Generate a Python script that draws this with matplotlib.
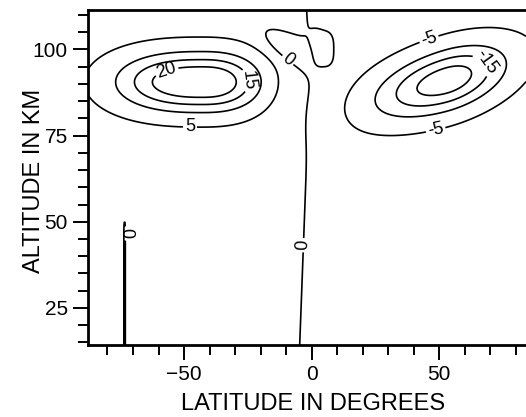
import numpy as np
import matplotlib
matplotlib.use("Agg")
import matplotlib.pyplot as plt
from matplotlib.ticker import MultipleLocator

plt.rcParams['font.family'] = ['Liberation Sans', 'DejaVu Sans']

# contour levels
levels = [-20, -15, -10, -5, 0, 5, 10, 15, 20]

# wind cells (centre, peak, widths, shape)
cell_lat = [-43, 53, -9, 4.5]
cell_alt = [90.5, 91, 100.5, 100]
cell_peak = [22.5, -20, -6.5, 5]
cell_wsouth = [31, 26.7, 11, 4.6]   # lat half-width, south side
cell_wnorth = [21.6, 22, 9, 4.6]    # lat half-width, north side
cell_plat = [2.5, 2, 2, 3]
cell_walt = [7.94, 8.44, 4, 5.4]
cell_palt = [2, 2, 2, 3]
cell_tilt = [0, 0.2, -0.4, 0]       # km per degree

# background: westerly south of the zero line, easterly north of it
zero_alts = [14, 93, 112]
zero_lats = [-4.7, -0.7, -2]
bg_amp = 3.5
bg_width = 12

# thin zero feature near -73 deg below ~50 km
ridge_lat = -73.3
ridge_top = 50
ridge_depth = -7

# label spots (lat, alt)
label_spots = [(-56.7, 93.5), (-25, 91), (-47.7, 76.8),
               (45.7, 103.6), (68, 96.0), (49.0, 75.3),
               (-73.2, 46.6), (-3.4, 43.2), (-9.3, 96.9)]

lat = np.arange(-88, 84.01, 0.2)
alt = np.arange(14, 112.01, 0.25)
LAT, ALT = np.meshgrid(lat, alt)

U = -bg_amp * np.tanh((LAT - np.interp(ALT, zero_alts, zero_lats)) / bg_width)
for la, al, pk, ws, wn, pl, wa, pa, tl in zip(cell_lat, cell_alt, cell_peak, cell_wsouth,
                                               cell_wnorth, cell_plat, cell_walt, cell_palt, cell_tilt):
    dx = LAT - la
    dy = ALT - al - tl * dx
    wx = np.where(dx < 0, ws, wn)
    U += pk * np.exp(-(np.abs(dx / wx) ** pl + np.abs(dy / wa) ** pa))
U += ridge_depth * np.exp(-((LAT - ridge_lat) / 0.35) ** 2) / (1 + np.exp((ALT - ridge_top) / 0.8))

fig = plt.figure(figsize=(5.26, 4.17), dpi=100)
ax = fig.add_axes([0.167, 0.173, 0.833, 0.803])

cs = ax.contour(LAT, ALT, U, levels=levels,
                colors='black', linewidths=1.2, linestyles='solid')
ax.clabel(cs, manual=label_spots, fmt='%d', fontsize=13, inline_spacing=2)

ax.set_xlim(-87.7, 84)
ax.set_ylim(14.3, 111.4)
ax.set_xticks([-50, 0, 50])
ax.set_yticks([25, 50, 75, 100])
ax.xaxis.set_minor_locator(MultipleLocator(10))
ax.yaxis.set_minor_locator(MultipleLocator(5))
ax.tick_params(which='major', direction='out', length=10.5, width=1.4, labelsize=15, pad=4)
ax.tick_params(which='minor', direction='out', length=7.5, width=1.4)

ax.spines['right'].set_visible(False)
for s in ['top', 'left', 'bottom']:
    ax.spines[s].set_linewidth(2)

ax.set_xlabel('LATITUDE IN DEGREES', fontsize=17)
ax.set_ylabel('ALTITUDE IN KM', fontsize=17)
ax.xaxis.set_label_coords(0.515, -0.143)
ax.yaxis.set_label_coords(-0.098, 0.49)

fig.savefig('out.png', dpi=100)
